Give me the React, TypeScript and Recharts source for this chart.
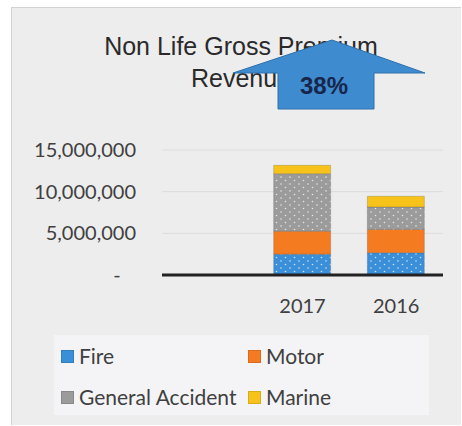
import { BarChart, Bar, XAxis, YAxis, CartesianGrid, ReferenceLine } from "recharts";

// Non Life Gross Premium Revenue by class
const years = ["", "2017", "2016"];
const fire = [0, 2500000, 2670000];
const motor = [0, 2760000, 2800000];
const generalAccident = [0, 6900000, 2700000];
const marine = [0, 1000000, 1280000];
const yTicks = [0, 5000000, 10000000, 15000000];

const series = [
  { key: "fire", name: "Fire", color: "#3a8fd8", fill: "url(#fireDots)" },
  { key: "motor", name: "Motor", color: "#f47b20", fill: "#f47b20" },
  { key: "ga", name: "General Accident", color: "#9b9b9b", fill: "url(#gaDots)" },
  { key: "marine", name: "Marine", color: "#f7c31b", fill: "#f7c31b" },
];

const data = years.map((y, i) => ({
  year: y,
  fire: fire[i],
  motor: motor[i],
  ga: generalAccident[i],
  marine: marine[i],
}));

const fmt = (v: number) => (v === 0 ? "-\u00a0\u00a0\u00a0" : v.toLocaleString("en-US"));

function Swatch({ color }: { color: string }) {
  return (
    <span
      style={{
        display: "inline-block",
        width: 13,
        height: 13,
        background: color,
        marginRight: 5,
        boxShadow: "inset 0 0 0 1px rgba(0,0,0,0.12)",
      }}
    />
  );
}

export default function App() {
  return (
    <div
      style={{
        position: "fixed",
        left: 0,
        top: 0,
        width: 462,
        height: 426,
        background: "#ffffff",
        overflow: "hidden",
      }}
    >
      <div
        style={{
          position: "absolute",
          left: 11,
          top: 7,
          width: 449,
          height: 417,
          background: "#ededee",
          borderLeft: "1px solid #d2d2d4",
          borderTop: "1px solid #d2d2d4",
        }}
      />
      <div
        style={{
          position: "absolute",
          left: 0,
          top: 30,
          width: 482,
          textAlign: "center",
          fontFamily: "'Liberation Sans', Arial, sans-serif",
          fontSize: 25,
          lineHeight: "32px",
          color: "#2a2a2a",
        }}
      >
        Non Life Gross Premium
        <br />
        Revenue
      </div>

      <div style={{ position: "absolute", left: 0, top: 0 }}>
        <BarChart
          width={462}
          height={426}
          data={data}
          margin={{ top: 150, right: 19, bottom: 111, left: 0 }}
          barSize={57}
        >
          <defs>
            <pattern id="fireDots" width="9" height="7" patternUnits="userSpaceOnUse">
              <rect width="9" height="7" fill="#3a8fd8" />
              <circle cx="2" cy="2" r="0.8" fill="#cfe3f7" />
              <circle cx="6.5" cy="5.5" r="0.8" fill="#cfe3f7" />
            </pattern>
            <pattern id="gaDots" width="9" height="7" patternUnits="userSpaceOnUse">
              <rect width="9" height="7" fill="#9b9b9b" />
              <circle cx="2" cy="2" r="0.8" fill="#e6e6e6" />
              <circle cx="6.5" cy="5.5" r="0.8" fill="#e6e6e6" />
            </pattern>
          </defs>
          <CartesianGrid vertical={false} stroke="#dcdcde" />
          <XAxis
            dataKey="year"
            axisLine={false}
            tickLine={false}
            height={40}
            tickMargin={18}
            tick={{ fill: "#404040", fontSize: 20, fontFamily: "Lato, sans-serif" }}
          />
          <YAxis
            width={162}
            domain={[0, 15000000]}
            ticks={yTicks}
            axisLine={false}
            tickLine={false}
            tickMargin={20}
            tickFormatter={fmt}
            tick={{ fill: "#404040", fontSize: 20, fontFamily: "Lato, sans-serif" }}
          />
          {series.map((s) => (
            <Bar
              key={s.key}
              dataKey={s.key}
              name={s.name}
              stackId="a"
              fill={s.fill}
              stroke="rgba(60,60,60,0.35)"
              strokeWidth={0.6}
              isAnimationActive={false}
            />
          ))}
          <ReferenceLine y={0} stroke="#222222" strokeWidth={3} />
        </BarChart>
      </div>

      <svg
        width={462}
        height={426}
        style={{ position: "absolute", left: 0, top: 0, pointerEvents: "none" }}
      >
        <polygon
          points="332,40 425,73 374,73 374,109 278,109 278,73 233,73"
          fill="#3f8bd0"
          stroke="#2f70ab"
          strokeWidth={1}
        />
        <text
          x={324}
          y={94}
          textAnchor="middle"
          fontFamily="'Liberation Sans', Arial, sans-serif"
          fontWeight="bold"
          fontSize={24}
          fill="#17264a"
        >
          38%
        </text>
      </svg>

      <div
        style={{
          position: "absolute",
          left: 54,
          top: 335,
          width: 375,
          height: 80,
          background: "#f4f4f6",
          fontFamily: "Lato, sans-serif",
          fontSize: 21,
          color: "#404040",
        }}
      >
        {series.map((s, i) => (
          <div
            key={s.key}
            style={{
              position: "absolute",
              left: i % 2 === 0 ? 7 : 194,
              top: i < 2 ? 9 : 50,
              display: "flex",
              alignItems: "center",
              lineHeight: "24px",
              whiteSpace: "nowrap",
            }}
          >
            <Swatch color={s.color} />
            {s.name}
          </div>
        ))}
      </div>
    </div>
  );
}
